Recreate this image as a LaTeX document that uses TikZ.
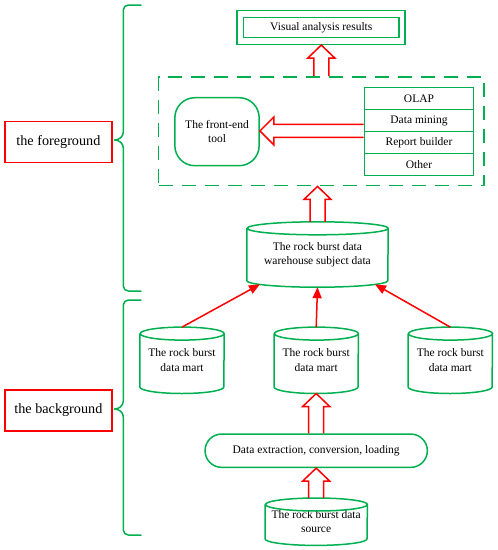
\documentclass[tikz,border=0pt]{standalone}
\usepackage{fontspec}
\setmainfont{Liberation Serif}
\usetikzlibrary{arrows.meta,calc}
\definecolor{gr}{RGB}{0,176,80}
\definecolor{rd}{RGB}{255,0,0}
\tikzset{
  gline/.style={draw=gr, line width=1.5pt},
  txt/.style={font=\fontsize{11.5}{14.5}\selectfont, align=center, inner sep=0pt},
  gbox/.style={gline, txt, rectangle},
  cyl/.style={txt, rectangle},
  lbl/.style={draw=rd, line width=1.5pt, font=\fontsize{14.2}{17}\selectfont, inner sep=0pt, minimum width=107pt, minimum height=41pt},
  thin/.style={draw=rd, line width=1.5pt, -{Triangle[length=11pt,width=9pt]}, fill=none},
  blockup/.style={draw=rd, line width=1.5pt, line join=miter,
    to path={let \p1=(\tikztostart), \p2=(\tikztotarget) in
      (\x1-7.5pt,\y1) -- (\x1-7.5pt,\y2-13pt) -- (\x1-13.5pt,\y2-13pt) -- (\x1,\y2)
      -- (\x1+13.5pt,\y2-13pt) -- (\x1+7.5pt,\y2-13pt) -- (\x1+7.5pt,\y1)}},
  blockleft/.style={draw=rd, line width=1.5pt, line join=miter,
    to path={let \p1=(\tikztostart), \p2=(\tikztotarget) in
      (\x1,\y1+6.5pt) -- (\x2+14pt,\y1+6.5pt) -- (\x2+14pt,\y1+14pt) -- (\x2,\y1)
      -- (\x2+14pt,\y1-14pt) -- (\x2+14pt,\y1-6.5pt) -- (\x1,\y1-6.5pt)}},
  brace/.style={draw=gr, line width=1.5pt, line join=round, line cap=round}
}
\newcommand\cylnode[6]{%
  \node[cyl, minimum width=#4pt, minimum height=#5pt] (#1) at (#2,#3) {#6};
  \draw[gline] ([yshift=-6.5pt]#1.north west) -- ([yshift=6.5pt]#1.south west)
    arc[start angle=180, end angle=360, x radius=#4pt/2, y radius=6.5pt]
    -- ([yshift=-6.5pt]#1.north east)
    arc[start angle=0, end angle=360, x radius=#4pt/2, y radius=6.5pt];
}
\begin{document}
\begin{tikzpicture}[x=1pt,y=-1pt]
\useasboundingbox (0,0) rectangle (498,550);

% labels
\node[lbl] (fg) at (58.4,141.8) {the foreground};
\node[lbl] (bg) at (58.4,410.5) {the background};

% braces
\draw[brace] (141,5) -- (128.3,5) arc[start angle=90, end angle=180, radius=5pt] -- (123.3,132)
  to[out=-90,in=0] (114.5,140) to[out=0,in=90] (123.3,148) -- (123.3,286)
  arc[start angle=180, end angle=270, radius=5pt] -- (141,291);
\draw[brace] (141,300) -- (128.3,300) arc[start angle=90, end angle=180, radius=5pt] -- (123.3,401)
  to[out=-90,in=0] (114.5,409) to[out=0,in=90] (123.3,417) -- (123.3,530)
  arc[start angle=180, end angle=270, radius=5pt] -- (141,535);

% visual analysis results
\node[gline, minimum width=168pt, minimum height=33.6pt] (vout) at (321,27.5) {};
\node[gbox, minimum width=155.3pt, minimum height=20.4pt] (vin) at (321.3,27.5) {Visual analysis results};

% dashed frame
\node[draw=gr, line width=1.5pt, dash pattern=on 14pt off 9pt, minimum width=325.3pt, minimum height=108.7pt, inner sep=0pt] (dash) at (321.3,131.3) {};

% front-end tool
\node[gbox, rounded corners=20pt, minimum width=84.3pt, minimum height=68pt] (fe) at (217,131.7) {The front-end\\tool};

% stack
\node[gbox, minimum width=109.4pt, minimum height=22pt] (olap) at (419,98.7) {OLAP};
\node[gbox, minimum width=109.4pt, minimum height=22pt] (dm) at (419,120.7) {Data mining};
\node[gbox, minimum width=109.4pt, minimum height=22pt] (rb) at (419,142.7) {Report builder};
\node[gbox, minimum width=109.4pt, minimum height=22pt] (oth) at (419,164.5) {Other};

% cylinders
\cylnode{ws}{317.5}{254.5}{141}{65}{The rock burst data\\warehouse subject data}
\cylnode{ma}{182}{360.3}{84}{66}{The rock burst\\data mart}
\cylnode{mb}{316.2}{360.3}{84}{66}{The rock burst\\data mart}
\cylnode{mc}{450.3}{360.3}{84}{66}{The rock burst\\data mart}
\cylnode{src}{316.2}{521.7}{102}{47}{The rock burst data\\source}

% ETL
\node[gbox, rounded corners=16.6pt, minimum width=222.3pt, minimum height=33.3pt] (etl) at (316.2,450.7) {Data extraction, conversion, loading};

% block arrows
\draw[blockup] (dash.north) to (vout.south);
\draw[blockleft] (rb.north west) to (fe.east);
\draw[blockup] (ws.north) to (dash.south);
\draw[blockup] (etl.north) to (mb.south);
\draw[blockup] (src.north) to (etl.south);

% thin arrows
\coordinate (wsL) at (260,284.3);
\coordinate (wsR) at (375,284.3);
\draw[thin] (ma.north) -- (wsL);
\draw[thin] (mb.north) -- (ws.south);
\draw[thin] (mc.north) -- (wsR);
\end{tikzpicture}
\end{document}
